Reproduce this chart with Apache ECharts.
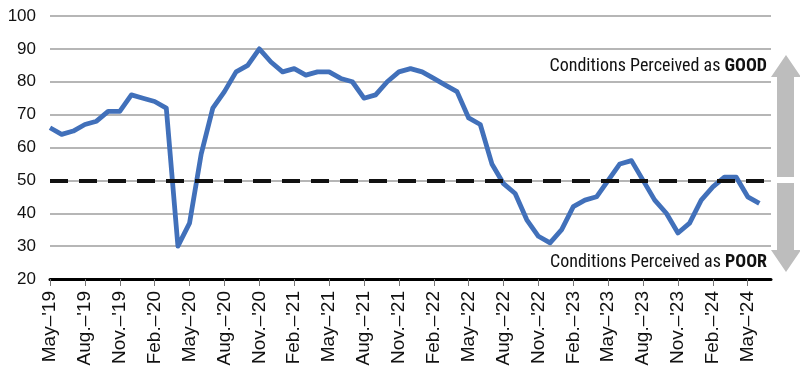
<!DOCTYPE html>
<html>
<head>
<meta charset="utf-8">
<script src="https://cdn.jsdelivr.net/npm/echarts@6/dist/echarts.min.js"></script>
<style>
  html, body { margin: 0; padding: 0; background: #fff; }
  #chart { width: 800px; height: 371px; }
</style>
</head>
<body>
<div id="chart"></div>
<script>
const categories = [
  "May–'19","Jun.–'19","Jul.–'19","Aug.–'19","Sep.–'19","Oct.–'19","Nov.–'19","Dec.–'19",
  "Jan.–'20","Feb.–'20","Mar.–'20","Apr.–'20","May–'20","Jun.–'20","Jul.–'20","Aug.–'20","Sep.–'20","Oct.–'20","Nov.–'20","Dec.–'20",
  "Jan.–'21","Feb.–'21","Mar.–'21","Apr.–'21","May–'21","Jun.–'21","Jul.–'21","Aug.–'21","Sep.–'21","Oct.–'21","Nov.–'21","Dec.–'21",
  "Jan.–'22","Feb.–'22","Mar.–'22","Apr.–'22","May–'22","Jun.–'22","Jul.–'22","Aug.–'22","Sep.–'22","Oct.–'22","Nov.–'22","Dec.–'22",
  "Jan.–'23","Feb.–'23","Mar.–'23","Apr.–'23","May–'23","Jun.–'23","Jul.–'23","Aug.–'23","Sep.–'23","Oct.–'23","Nov.–'23","Dec.–'23",
  "Jan.–'24","Feb.–'24","Mar.–'24","Apr.–'24","May–'24","Jun.–'24","Jul.–'24"
];
const conditionValues = [
  66, 64, 65, 67, 68, 71, 71, 76,
  75, 74, 72, 30, 37, 58, 72, 77, 83, 85, 90, 86,
  83, 84, 82, 83, 83, 81, 80, 75, 76, 80, 83, 84,
  83, 81, 79, 77, 69, 67, 55, 49, 46, 38, 33, 31,
  35, 42, 44, 45, 50, 55, 56, 50, 44, 40, 34, 37,
  44, 48, 51, 51, 45, 43, '-'
];
const yTicks = { min: 20, max: 100, interval: 10 };
const thresholdValue = 50;
const goodLabel = 'Conditions Perceived as ';
const goodWord = 'GOOD';
const poorWord = 'POOR';

const chart = echarts.init(document.getElementById('chart'), null, { renderer: 'canvas' });
const sans = 'Liberation Sans';
const narrow = 'Roboto Condensed';
const arrowColor = '#bdbdbd';

chart.setOption({
  animation: false,
  backgroundColor: '#ffffff',
  grid: { left: 50, right: 29, top: 16, bottom: 92, containLabel: false },
  xAxis: {
    type: 'category',
    data: categories,
    boundaryGap: false,
    axisLine: { show: true, lineStyle: { color: '#000', width: 3 } },
    axisTick: { show: true, interval: (i) => i % 3 === 0, length: 7, lineStyle: { color: '#777', width: 1 } },
    axisLabel: {
      interval: (i) => i % 3 === 0,
      rotate: 90,
      margin: 12,
      color: '#111',
      fontSize: 19,
      fontFamily: sans
    },
    splitLine: { show: false }
  },
  yAxis: {
    type: 'value',
    min: yTicks.min,
    max: yTicks.max,
    interval: yTicks.interval,
    axisLine: { show: false },
    axisTick: { show: false },
    axisLabel: {
      margin: 14,
      color: '#111',
      fontSize: 17,
      fontFamily: sans
    },
    splitLine: { show: true, lineStyle: { color: '#9e9e9e', width: 1.5 } }
  },
  series: [{
    type: 'line',
    data: conditionValues,
    symbol: 'none',
    smooth: false,
    lineStyle: { color: '#4170ba', width: 4.8, join: 'round' },
    markLine: {
      silent: true,
      symbol: 'none',
      label: { show: false },
      lineStyle: { color: '#111', width: 4, type: [18, 11] },
      data: [{ yAxis: thresholdValue }],
      z: 10
    },
    z: 5
  }],
  graphic: [
    {
      type: 'polygon',
      shape: { points: [[786, 55], [801, 77], [794, 77], [794, 177], [777, 177], [777, 77], [771, 77]] },
      style: { fill: arrowColor },
      z: 1
    },
    {
      type: 'polygon',
      shape: { points: [[777, 183], [794, 183], [794, 250], [801, 250], [786, 272], [771, 250], [777, 250]] },
      style: { fill: arrowColor },
      z: 1
    },
    {
      type: 'text',
      right: 33,
      top: 57,
      style: {
        text: '{n|' + goodLabel + '}{b|' + goodWord + '}',
        rich: {
          n: { fontFamily: narrow, fontSize: 18, fill: '#111' },
          b: { fontFamily: narrow, fontSize: 18, fontWeight: 'bold', fill: '#111' }
        }
      },
      z: 20
    },
    {
      type: 'text',
      right: 33,
      top: 253,
      style: {
        text: '{n|' + goodLabel + '}{b|' + poorWord + '}',
        rich: {
          n: { fontFamily: narrow, fontSize: 18, fill: '#111' },
          b: { fontFamily: narrow, fontSize: 18, fontWeight: 'bold', fill: '#111' }
        }
      },
      z: 20
    }
  ]
});
</script>
</body>
</html>
